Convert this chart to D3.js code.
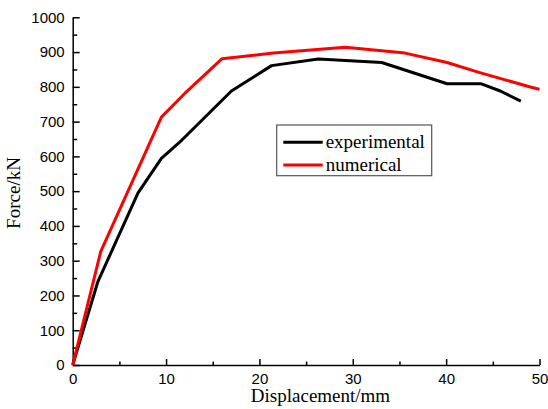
<!DOCTYPE html>
<html><head><meta charset="utf-8">
<script src="https://cdn.jsdelivr.net/npm/d3@7"></script>
<style>body{margin:0;background:#fff}svg{display:block}</style>
</head><body>
<script>
const expX = [0, 2.7, 7.0, 9.5, 11.7, 17.0, 21.3, 26.3, 33.1, 40.1, 43.7, 45.8, 48.0];
const expY = [0, 240, 495, 594, 647, 788, 861, 880, 870, 809, 809, 788, 759];
const numX = [0, 3.0, 9.5, 12.0, 16.0, 21.5, 29.2, 35.6, 40.1, 43.6, 49.2, 50];
const numY = [0, 326, 713, 781, 881, 897, 914, 897, 870, 841, 798, 793];
const seriesNames = ["experimental", "numerical"];
const xTicks = [0, 10, 20, 30, 40, 50];
const yTicks = [0, 100, 200, 300, 400, 500, 600, 700, 800, 900, 1000];

const W = 548, H = 409;
const svg = d3.select("body").append("svg").attr("width", W).attr("height", H);
const x = d3.scaleLinear().domain([0, 50]).range([72.7, 539.5]);
const y = d3.scaleLinear().domain([0, 1000]).range([365, 17.3]);

// minor ticks
const xMinor = xTicks.slice(0, -1).map(v => v + 5);
const yMinor = yTicks.slice(0, -1).map(v => v + 50);
svg.append("g").attr("transform", "translate(0,365)")
  .call(d3.axisBottom(x).tickValues(xMinor).tickSize(-3.5).tickFormat(""))
  .call(g => g.select(".domain").remove())
  .call(g => g.selectAll("line").attr("stroke-width", 1.5));
svg.append("g").attr("transform", "translate(72.7,0)")
  .call(d3.axisLeft(y).tickValues(yMinor).tickSize(-4.5).tickFormat(""))
  .call(g => g.select(".domain").remove())
  .call(g => g.selectAll("line").attr("stroke-width", 1.5));

const font = "'Liberation Sans', Arial, sans-serif";
const fmt = d3.format("d");
svg.append("g").attr("transform", "translate(0,365)")
  .call(d3.axisBottom(x).tickValues(xTicks).tickFormat(fmt).tickSizeInner(-6).tickSizeOuter(0).tickPadding(8))
  .call(g => g.select(".domain").attr("stroke-width", 1.5))
  .call(g => g.selectAll("line").attr("stroke-width", 1.5))
  .call(g => g.selectAll("text").attr("font-family", font).attr("font-size", 15).attr("fill", "#000"));
svg.append("g").attr("transform", "translate(72.7,0)")
  .call(d3.axisLeft(y).tickValues(yTicks).tickFormat(fmt).tickSizeInner(-7).tickSizeOuter(0).tickPadding(8))
  .call(g => g.select(".domain").attr("stroke-width", 1.5))
  .call(g => g.selectAll("line").attr("stroke-width", 1.5))
  .call(g => g.selectAll("text").attr("font-family", font).attr("font-size", 15).attr("fill", "#000"));

const serif = "'Liberation Serif', 'Times New Roman', serif";
svg.append("text").attr("x", 320.5).attr("y", 402).attr("text-anchor", "middle")
  .attr("font-family", serif).attr("font-size", 19).text("Displacement/mm");
svg.append("text").attr("transform", "translate(20,193) rotate(-90)").attr("text-anchor", "middle")
  .attr("font-family", serif).attr("font-size", 19).text("Force/kN");

const line = d3.line().x(d => x(d[0])).y(d => y(d[1]));
const series = [
  {name: seriesNames[0], color: "#000000", pts: expX.map((v, i) => [v, expY[i]])},
  {name: seriesNames[1], color: "#ff0000", pts: numX.map((v, i) => [v, numY[i]])}
];
series.forEach(s => {
  svg.append("path").attr("d", line(s.pts)).attr("fill", "none")
    .attr("stroke", s.color).attr("stroke-width", 3).attr("stroke-linejoin", "round");
});

// legend
const lg = svg.append("g");
lg.append("rect").attr("x", 276.7).attr("y", 125).attr("width", 155).attr("height", 50.7)
  .attr("fill", "#fff").attr("stroke", "#555").attr("stroke-width", 1.2);
series.forEach((s, i) => {
  const yy = 142.3 + i * 22.7;
  lg.append("line").attr("x1", 283.3).attr("x2", 322.7).attr("y1", yy).attr("y2", yy)
    .attr("stroke", s.color).attr("stroke-width", 3);
  lg.append("text").attr("x", 325.7).attr("y", yy + 5.5).attr("font-family", serif)
    .attr("font-size", 19).text(s.name);
});
</script>
</body></html>
